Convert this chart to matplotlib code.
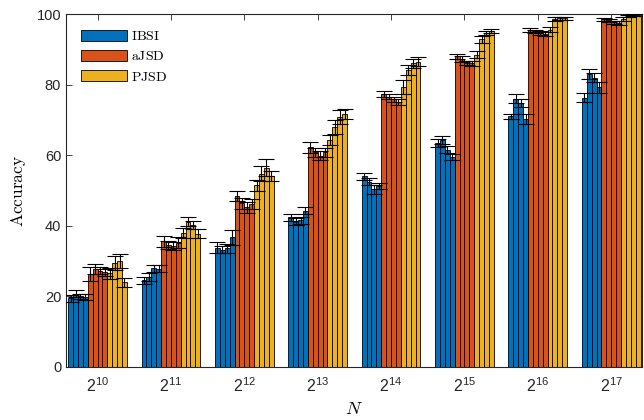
import numpy as np
import matplotlib
matplotlib.use("Agg")
import matplotlib.pyplot as plt

plt.rcParams['font.family'] = ['Liberation Sans', 'DejaVu Sans']
plt.rcParams['mathtext.fontset'] = 'custom'
plt.rcParams['mathtext.rm'] = 'Liberation Sans'
plt.rcParams['mathtext.it'] = 'Liberation Sans:italic'
plt.rcParams['mathtext.bf'] = 'Liberation Sans:bold'

# data: 8 sizes x 4 bars per method
exponents = [10, 11, 12, 13, 14, 15, 16, 17]
methods = ['IBSI', 'aJSD', 'PJSD']

ibsi = [[19.5, 20.8, 20.0, 19.9],
        [24.6, 25.5, 28.0, 27.8],
        [33.8, 33.2, 33.6, 36.7],
        [42.4, 41.2, 41.6, 44.3],
        [54.0, 52.5, 50.3, 51.3],
        [63.4, 64.3, 61.6, 59.4],
        [71.0, 76.0, 74.8, 70.3],
        [76.3, 83.0, 82.0, 79.2]]
ibsi_err = [[1.0, 1.0, 0.8, 0.8],
            [1.0, 1.0, 1.0, 1.0],
            [1.5, 1.0, 1.2, 2.0],
            [1.0, 1.0, 1.0, 1.0],
            [1.0, 1.0, 1.2, 0.8],
            [1.2, 1.0, 1.0, 0.8],
            [0.8, 1.2, 1.2, 1.5],
            [1.2, 1.5, 1.2, 1.5]]

ajsd = [[26.3, 27.8, 27.3, 26.9],
        [35.6, 34.6, 34.3, 35.2],
        [48.4, 46.4, 45.2, 46.2],
        [62.2, 60.8, 59.9, 60.8],
        [77.3, 76.6, 75.8, 75.0],
        [88.0, 87.3, 86.2, 86.0],
        [95.4, 95.0, 94.6, 94.3],
        [98.5, 98.2, 97.6, 97.4]]
ajsd_err = [[2.0, 1.5, 1.0, 1.0],
            [1.5, 1.2, 1.2, 1.5],
            [1.5, 1.5, 1.5, 1.5],
            [1.5, 1.2, 1.2, 1.2],
            [0.8, 0.8, 0.8, 0.8],
            [0.8, 0.8, 0.6, 0.6],
            [0.5, 0.5, 0.5, 0.5],
            [0.4, 0.4, 0.5, 0.5]]

pjsd = [[26.5, 29.5, 30.0, 24.0],
        [38.0, 41.2, 40.3, 37.8],
        [51.5, 54.8, 56.5, 54.1],
        [64.3, 68.0, 70.9, 71.7],
        [79.2, 84.1, 86.0, 86.5],
        [88.5, 92.8, 94.6, 95.2],
        [95.6, 98.6, 98.8, 98.8],
        [98.6, 99.4, 99.6, 99.7]]
pjsd_err = [[1.5, 2.0, 2.0, 1.2],
            [1.5, 1.2, 1.2, 1.2],
            [1.5, 2.0, 2.5, 1.5],
            [1.5, 2.0, 2.0, 1.5],
            [2.0, 1.5, 1.2, 1.2],
            [1.0, 1.0, 0.6, 0.5],
            [0.8, 0.5, 0.4, 0.4],
            [0.5, 0.3, 0.3, 0.3]]

colors = ['#0072BD', '#D95319', '#EDB120']
axcol = '#262626'

fig = plt.figure(figsize=(6.44, 4.2), dpi=100)
ax = fig.add_axes([66/644, 53/420, 576/644, 353/420])

groups = np.arange(1, len(exponents) + 1)
nper = 4
nbar = nper * len(methods)
w = 0.8 / nbar

series = [(ibsi, ibsi_err), (ajsd, ajsd_err), (pjsd, pjsd_err)]
handles = []
for m, (vals, errs) in enumerate(series):
    vals = np.array(vals)
    errs = np.array(errs)
    for k in range(nper):
        j = m * nper + k
        x = groups - 0.4 + (j + 0.5) * w
        b = ax.bar(x, vals[:, k], width=w, color=colors[m], edgecolor='k',
                   linewidth=0.6, zorder=2)
        ax.errorbar(x, vals[:, k], yerr=errs[:, k], fmt='none', ecolor='k',
                    elinewidth=0.8, capsize=5.5, capthick=0.8, zorder=3)
        if k == 0:
            handles.append(b)

ax.set_xlim(0.57, 8.42)
ax.set_ylim(0, 100)
ax.set_xticks(groups)
ax.set_xticklabels([r'$2^{%d}$' % e for e in exponents])
ax.set_yticks([0, 20, 40, 60, 80, 100])
ax.tick_params(direction='in', length=4, width=0.6, colors=axcol, labelsize=10.5,
               top=True, right=True)
ax.tick_params(axis='x', pad=7, labelsize=11.5)
for s in ax.spines.values():
    s.set_color(axcol)
    s.set_linewidth(0.8)

xl = ax.set_xlabel(r'$N$', fontsize=13, labelpad=4)
xl.set_math_fontfamily('cm')
yl = ax.set_ylabel(r'$\mathrm{Accuracy}$', fontsize=12.5, labelpad=6)
yl.set_math_fontfamily('cm')

leg = ax.legend(handles, [r'$\mathrm{%s}$' % m for m in methods],
                loc='upper left', bbox_to_anchor=(0.01, 0.985), frameon=False,
                fontsize=10, handlelength=3.3, handleheight=0.8,
                handletextpad=0.3, labelspacing=0.45, borderaxespad=0.3)
for t in leg.get_texts():
    t.set_math_fontfamily('cm')

fig.savefig('out.png', dpi=100)
